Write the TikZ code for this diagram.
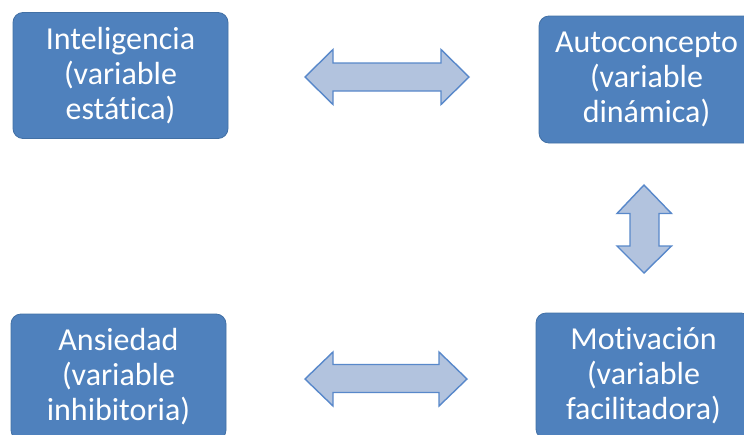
\documentclass[tikz,border=0pt]{standalone}
\usepackage{fontspec}
\setmainfont{Carlito}[RawFeature={-liga}]
\definecolor{boxfill}{RGB}{79,129,189}
\definecolor{boxline}{RGB}{66,112,165}
\definecolor{arrfill}{RGB}{178,195,222}
\definecolor{arrline}{RGB}{88,136,202}
\tikzset{
  varbox/.style={draw=boxline, line width=0.8pt, fill=boxfill, rounded corners=10pt,
    minimum width=215pt, minimum height=126pt, inner sep=0pt, text=white,
    align=center, font=\fontsize{32}{35}\selectfont},
  blockarrow/.style={draw=arrline, line width=1.4pt, fill=arrfill, line join=miter}
}
\begin{document}
\begin{tikzpicture}[x=1pt, y=-1pt]
\useasboundingbox (0,0) rectangle (744,434);
\clip (0,0) rectangle (744,434);
\node[varbox] (intel) at (120.5,75.5) {Inteligencia\\(variable\\estática)};
\node[varbox, minimum height=127pt] (auto) at (646.5,79.5) {Autoconcepto\\(variable\\dinámica)};
\node[varbox] (ansi) at (118.5,377) {Ansiedad\\(variable\\inhibitoria)};
\node[varbox] (moti) at (643.5,376) {Motivación\\(variable\\facilitadora)};
% top horizontal double arrow
\draw[blockarrow] (305,77) -- (333,49.5) -- (333,63) -- (441,63) -- (441,49.5) -- (469,77)
  -- (441,104.5) -- (441,91) -- (333,91) -- (333,104.5) -- cycle;
% bottom horizontal double arrow
\draw[blockarrow] (305,379) -- (333,352) -- (333,364.5) -- (439,364.5) -- (439,352) -- (467,379)
  -- (439,406) -- (439,392.5) -- (333,392.5) -- (333,406) -- cycle;
% vertical double arrow
\draw[blockarrow] (644,185) -- (671.5,213.5) -- (659,213.5) -- (659,246) -- (671.5,246) -- (644,273)
  -- (617,246) -- (630,246) -- (630,213.5) -- (617,213.5) -- cycle;
\end{tikzpicture}
\end{document}
